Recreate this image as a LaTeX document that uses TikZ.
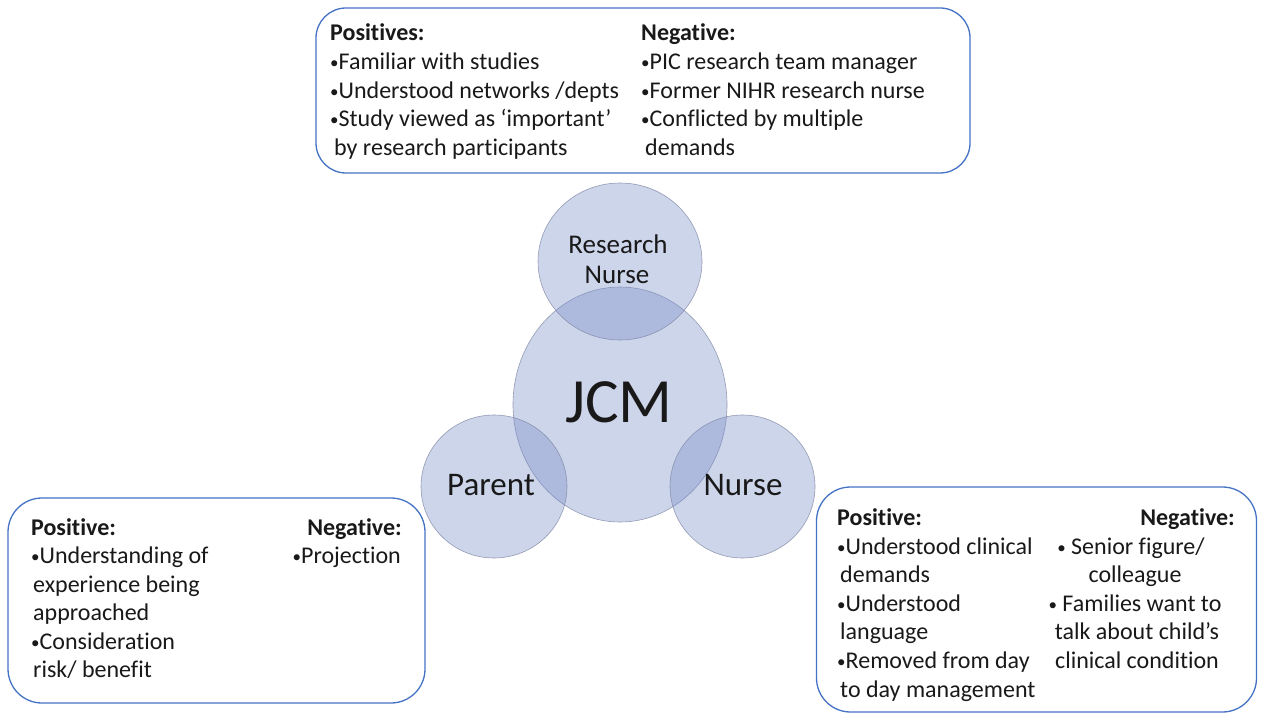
\documentclass[tikz,border=0pt]{standalone}
\usepackage{fontspec}
\setmainfont[Ligatures=NoCommon]{Carlito}
\usetikzlibrary{shapes.geometric}
\definecolor{boxblue}{RGB}{68,114,196}
\definecolor{circfill}{RGB}{118,140,199}
\definecolor{circline}{RGB}{128,136,165}
\definecolor{txt}{RGB}{25,25,25}
\newcommand\bul{{\fontsize{17}{17}\selectfont\raisebox{1pt}{•}}}
\begin{document}
\begin{tikzpicture}[x=1pt,y=-1pt,
  box/.style={draw=boxblue, line width=1.3pt, rounded corners=30pt, fill=white, inner sep=0},
  circ/.style={ellipse, draw=circline, line width=0.6pt, fill=circfill, fill opacity=0.37, draw opacity=0.8, inner sep=0},
  ln/.style={anchor=base west, inner sep=0, font=\fontsize{24}{28}\selectfont, text=txt},
  lnr/.style={ln, anchor=base east},
  lnc/.style={ln, anchor=base},
  clab/.style={anchor=base, inner sep=0, text=txt}]
\useasboundingbox (0,0) rectangle (1263,714);

% boxes
\node[box, minimum width=654, minimum height=165] (topbox) at (643,90.5) {};
\node[box, minimum width=417, minimum height=205, rounded corners=34pt] (leftbox) at (216.5,600.5) {};
\node[box, minimum width=440, minimum height=225, rounded corners=34pt] (rightbox) at (1036.5,599.5) {};

% circles
\node[circ, minimum width=214, minimum height=235] (jcm) at (620,404.5) {};
\node[circ, minimum width=164, minimum height=157] (rn) at (620,261.5) {};
\node[circ, minimum width=146, minimum height=143] (par) at (494,486.5) {};
\node[circ, minimum width=145, minimum height=143] (nur) at (742.5,486.5) {};

% circle labels
\node[clab, font=\fontsize{27}{32}\selectfont] (rnl1) at (618,253) {Research};
\node[clab, font=\fontsize{27}{32}\selectfont] (rnl2) at (617,283) {Nurse};
\node[clab, font=\fontsize{63}{75}\selectfont] (jcml) at (619,422) {JCM};
\node[clab, font=\fontsize{33}{40}\selectfont] (parl) at (491,495) {Parent};
\node[clab, font=\fontsize{33}{40}\selectfont] (nurl) at (743,495) {Nurse};

% top box text
\node[ln] (a1) at (330,41) {\textbf{Positives:}};
\node[ln] (a2) at (330,70) {\bul Familiar with studies};
\node[ln] (a3) at (330,99) {\bul Understood networks /depts};
\node[ln] (a4) at (330,127) {\bul Study viewed as ‘important’};
\node[ln] (a5) at (334,156) {by research participants};
\node[ln] (b1) at (641,41) {\textbf{Negative:}};
\node[ln] (b2) at (641,70) {\bul PIC research team manager};
\node[ln] (b3) at (641,99) {\bul Former NIHR research nurse};
\node[ln] (b4) at (641,127) {\bul Conflicted by multiple};
\node[ln] (b5) at (645,156) {demands};

% left box text
\node[ln] (c1) at (31,535) {\textbf{Positive:}};
\node[ln] (c2) at (31,563) {\bul Understanding of};
\node[ln] (c3) at (33,592) {experience being};
\node[ln] (c4) at (33,620) {approached};
\node[ln] (c5) at (31,649) {\bul Consideration};
\node[ln] (c6) at (33,677) {risk/ benefit};
\node[lnr] (d1) at (402,535) {\textbf{Negative:}};
\node[lnr] (d2) at (401,563) {\bul Projection};

% right box text
\node[ln] (e1) at (837,525) {\textbf{Positive:}};
\node[ln] (e2) at (837,554) {\bul Understood clinical};
\node[ln] (e3) at (840,582) {demands};
\node[ln] (e4) at (837,611) {\bul Understood};
\node[ln] (e5) at (840,639) {language};
\node[ln] (e6) at (837,668) {\bul Removed from day};
\node[ln] (e7) at (840,697) {to day management};
\node[lnr] (f1) at (1235,525) {\textbf{Negative:}};
\node[lnc] (f2) at (1131,554) {\bul{} Senior figure/};
\node[lnc] (f3) at (1135,582) {colleague};
\node[lnc] (f4) at (1135,611) {\bul{} Families want to};
\node[lnc] (f5) at (1137,639) {talk about child’s};
\node[lnc] (f6) at (1137,668) {clinical condition};
\end{tikzpicture}
\end{document}
